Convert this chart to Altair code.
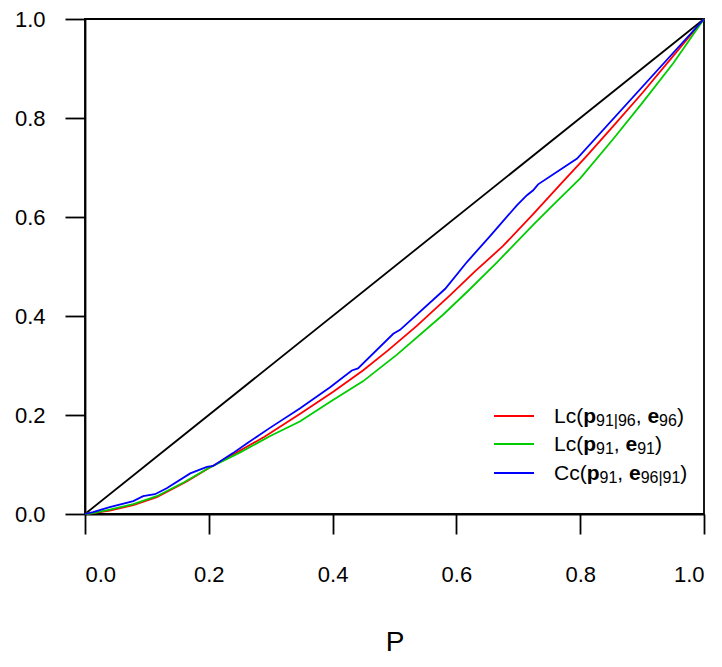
import altair as alt
import pandas as pd

# ---- data ----
diag_P = [0.0, 1.0]
diag_L = [0.0, 1.0]

red_P = [0.0, 0.013, 0.04, 0.078, 0.116, 0.165, 0.199, 0.239, 0.29, 0.347, 0.401, 0.449,
         0.49, 0.536, 0.590, 0.63, 0.675, 0.724, 0.768, 0.811, 0.853, 0.90, 0.95, 1.0]
red_L = [0.0, 0.002, 0.007, 0.018, 0.034, 0.066, 0.092, 0.120, 0.156, 0.202, 0.247, 0.290,
         0.331, 0.380, 0.442, 0.490, 0.541, 0.606, 0.666, 0.724, 0.783, 0.850, 0.925, 1.0]

green_P = [0.0, 0.013, 0.04, 0.078, 0.116, 0.16, 0.197, 0.25, 0.30, 0.347, 0.40, 0.449,
           0.504, 0.578, 0.62, 0.666, 0.724, 0.756, 0.80, 0.853, 0.90, 0.95, 1.0]
green_L = [0.0, 0.002, 0.009, 0.020, 0.036, 0.064, 0.091, 0.124, 0.158, 0.187, 0.230, 0.268,
           0.322, 0.402, 0.452, 0.509, 0.584, 0.624, 0.678, 0.757, 0.830, 0.910, 1.0]

blue_P = [0.0, 0.013, 0.04, 0.078, 0.094, 0.113, 0.132, 0.170, 0.197, 0.207, 0.239, 0.262,
          0.30, 0.347, 0.396, 0.431, 0.441, 0.498, 0.509, 0.582, 0.617, 0.654, 0.698, 0.714,
          0.724, 0.732, 0.795, 1.0]
blue_L = [0.0, 0.004, 0.014, 0.026, 0.036, 0.040, 0.052, 0.082, 0.095, 0.097, 0.123, 0.143,
          0.175, 0.213, 0.256, 0.290, 0.294, 0.364, 0.372, 0.455, 0.509, 0.561, 0.624, 0.644,
          0.654, 0.666, 0.718, 1.0]

series_keys = ["diag", "red", "green", "blue"]
series_colors = ["#000000", "#FF0000", "#00CC00", "#0000FF"]
tick_values = [0.0, 0.2, 0.4, 0.6, 0.8, 1.0]

# legend rich-text pieces: (text, bold, subscript)
legend_rows = [
    [("Lc(", 0, 0), ("p", 1, 0), ("91|96", 0, 1), (", ", 0, 0), ("e", 1, 0), ("96", 0, 1), (")", 0, 0)],
    [("Lc(", 0, 0), ("p", 1, 0), ("91", 0, 1), (", ", 0, 0), ("e", 1, 0), ("91", 0, 1), (")", 0, 0)],
    [("Cc(", 0, 0), ("p", 1, 0), ("91", 0, 1), (", ", 0, 0), ("e", 1, 0), ("96|91", 0, 1), (")", 0, 0)],
]
legend_colors = ["#FF0000", "#00CC00", "#0000FF"]

# ---- build tables ----
rows = []
for key, ps, ls in [("diag", diag_P, diag_L), ("red", red_P, red_L),
                    ("green", green_P, green_L), ("blue", blue_P, blue_L)]:
    for i, (p, l) in enumerate(zip(ps, ls)):
        rows.append({"series": key, "P": p, "L": l, "i": i})
df = pd.DataFrame(rows)

W, H = 619, 495
MAIN, SUB = 21, 16
# Arial / Liberation Sans advance widths (per 1000 em)
WID = {"L": 556, "c": 500, "C": 722, "(": 333, ")": 333, ",": 278, " ": 278, "|": 260,
       "p": 611, "e": 556}
def tw(s, size):
    return sum(WID.get(ch, 556) for ch in s) * size / 1000.0

ROW_Y = [397, 425, 454]
TEXT_X = 469
seg_rows = []
for r, pieces in enumerate(legend_rows):
    x = TEXT_X
    for text, bold, sub in pieces:
        size = SUB if sub else MAIN
        seg_rows.append({"tx": x, "ty": ROW_Y[r] + (10 if sub else 7), "text": text,
                         "fs": size, "bold": bold})
        x += tw(text, size)
seg = pd.DataFrame(seg_rows)
sample = pd.DataFrame({"x1": [409] * 3, "x2": [449] * 3, "yy": ROW_Y, "col": legend_colors})

FONT = "Liberation Sans"
xs = alt.Scale(domain=[0, 1], nice=False, zero=False)
ys = alt.Scale(domain=[0, 1], nice=False, zero=False)

lines = alt.Chart(df).mark_line(strokeWidth=1.8).encode(
    x=alt.X("P:Q", scale=xs, title="P",
            axis=alt.Axis(values=tick_values, format=".1f", tickSize=20, labelPadding=30,
                          titlePadding=43, labelFontSize=22, titleFontSize=28,
                          titleFontWeight="normal")),
    y=alt.Y("L:Q", scale=ys, title=None,
            axis=alt.Axis(values=tick_values, format=".1f", tickSize=20, labelPadding=20,
                          labelFontSize=22)),
    color=alt.Color("series:N", scale=alt.Scale(domain=series_keys, range=series_colors),
                    legend=None),
    order="i:Q",
)

samples = alt.Chart(sample).mark_rule(strokeWidth=1.8).encode(
    x=alt.X("x1:Q", scale=None, axis=None),
    x2="x2:Q",
    y=alt.Y("yy:Q", scale=None, axis=None),
    color=alt.Color("col:N", scale=None, legend=None),
)

def seg_layer(b):
    return alt.Chart(seg).transform_filter(alt.datum.bold == b).mark_text(
        align="left", baseline="alphabetic", font=FONT, color="black",
        fontWeight="bold" if b else "normal"
    ).encode(
        x=alt.X("tx:Q", scale=None, axis=None),
        y=alt.Y("ty:Q", scale=None, axis=None),
        text="text:N",
        size=alt.Size("fs:Q", scale=None, legend=None),
    )

chart = alt.layer(lines, samples, seg_layer(0), seg_layer(1)).properties(
    width=W, height=H,
    autosize=alt.AutoSizeParams(type="none"),
    padding={"left": 77, "top": 11, "right": 10, "bottom": 142},
).configure_view(stroke="black", strokeWidth=1.8).configure_axis(
    grid=False, domainColor="black", domainWidth=1.8, tickColor="black", tickWidth=1.8,
    labelColor="black", titleColor="black", labelFont=FONT, titleFont=FONT,
)

chart.save("out.html", embed_options={"renderer": "svg", "actions": False})
